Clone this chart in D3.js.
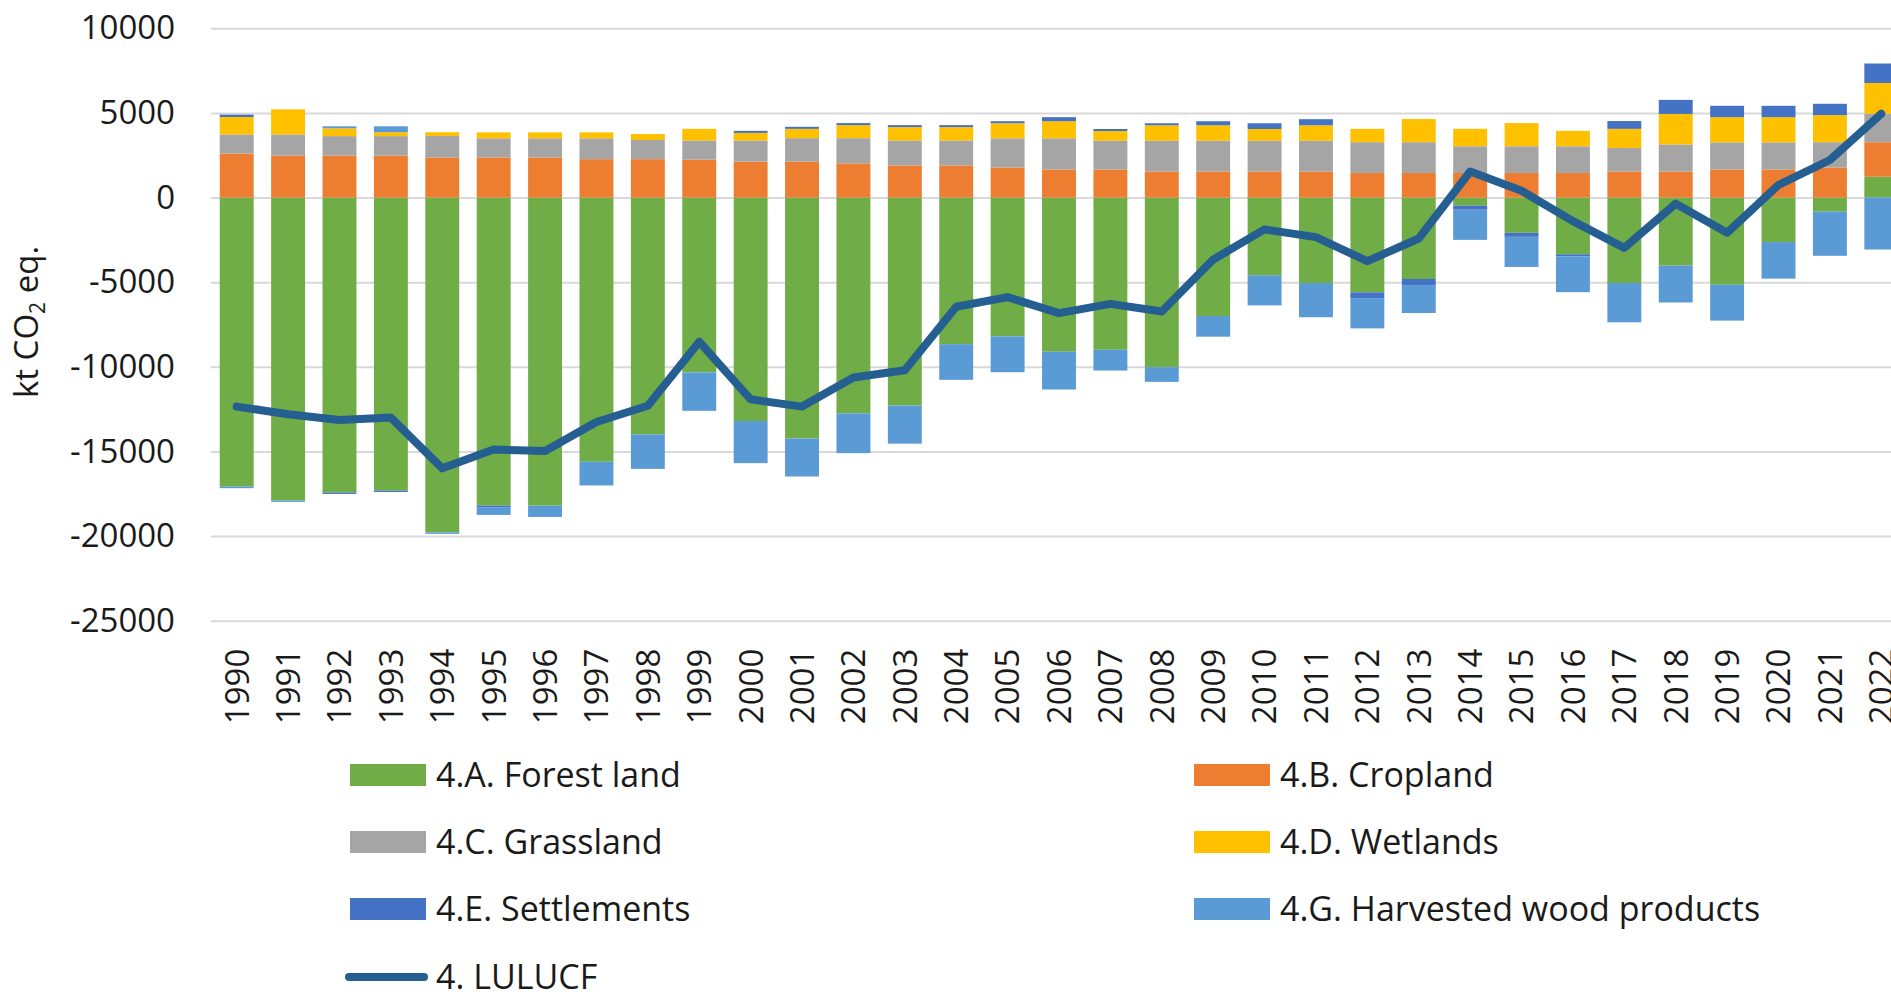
<!DOCTYPE html>
<html>
<head>
<meta charset="utf-8">
<script src="https://cdn.jsdelivr.net/npm/d3@7"></script>
<style>
  body { margin: 0; background: #fff; }
  svg { display: block; font-family: "Open Sans", sans-serif; }
</style>
</head>
<body>
<div id="chart-area"></div>
<script>
// years on the x axis
var years = d3.range(1990, 2023).map(String);

var forest = [-17080, -17900, -17430, -17320, -19780, -18200, -18200, -15610, -13990, -10330,
    -13200, -14230, -12750, -12290, -8660, -8200, -9110, -8990, -10020, -7000,
    -4590, -5050, -5600, -4810, -480, -2080, -3350, -5050, -4020, -5150,
    -2630, -830, 1230];
var cropland = [2600, 2480, 2480, 2480, 2370, 2370, 2370, 2270, 2270, 2240,
    2120, 2120, 2020, 1900, 1900, 1780, 1660, 1660, 1540, 1540,
    1540, 1540, 1450, 1450, 1450, 1450, 1450, 1540, 1540, 1660,
    1660, 1780, 2040];
var grassland = [1130, 1250, 1150, 1150, 1270, 1130, 1130, 1230, 1130, 1130,
    1250, 1390, 1490, 1470, 1470, 1720, 1840, 1700, 1820, 1820,
    1820, 1820, 1820, 1820, 1580, 1580, 1580, 1390, 1600, 1600,
    1600, 1490, 1680];
var wetlands = [1030, 1480, 460, 230, 220, 350, 350, 350, 350, 690,
    450, 550, 770, 790, 790, 890, 1010, 570, 910, 910,
    690, 910, 790, 1370, 1030, 1370, 910, 1130, 1800, 1490,
    1490, 1600, 1820];
var settlements = [140, 0, -80, -75, 0, -120, 0, 0, 0, 0,
    120, 120, 120, 120, 120, 120, 240, 120, 120, 240,
    340, 360, -340, -360, -240, -240, -120, 460, 830, 670,
    670, 670, 1150];
var hwp = [-90, -80, 120, 350, -90, -430, -670, -1400, -2040, -2270,
    -2490, -2250, -2350, -2250, -2110, -2120, -2230, -1230, -870, -1220,
    -1780, -2020, -1790, -1650, -1780, -1780, -2120, -2320, -2180, -2120,
    -2160, -2610, -3070];
var lulucf = [-12350, -12800, -13140, -13000, -16000, -14880, -14980, -13260, -12300, -8520,
    -11920, -12350, -10630, -10200, -6450, -5880, -6830, -6280, -6730, -3660,
    -1880, -2340, -3760, -2420, 1540, 400, -1390, -2970, -360, -2080,
    750, 2220, 4950];

var yTicks = [10000, 5000, 0, -5000, -10000, -15000, -20000, -25000];

var keys = ["forest", "cropland", "grassland", "wetlands", "settlements", "hwp"];
var labels = {
    forest: "4.A. Forest land",
    cropland: "4.B. Cropland",
    grassland: "4.C. Grassland",
    wetlands: "4.D. Wetlands",
    settlements: "4.E. Settlements",
    hwp: "4.G. Harvested wood products"
};
var colors = {
    forest: "#70AD47",
    cropland: "#ED7D31",
    grassland: "#A5A5A5",
    wetlands: "#FFC000",
    settlements: "#4472C4",
    hwp: "#5B9BD5"
};
var lineColor = "#255E91";

var table = years.map(function (yr, i) {
    return {
        year: yr,
        forest: forest[i],
        cropland: cropland[i],
        grassland: grassland[i],
        wetlands: wetlands[i],
        settlements: settlements[i],
        hwp: hwp[i],
        lulucf: lulucf[i]
    };
});

var W = 1891, H = 992;
// plot box; the right edge runs past the picture like the reference
var plot = { left: 211, right: 1907, top: 28.3, bottom: 620.7 };

var svg = d3.select("#chart-area")
    .append("svg")
    .attr("width", W)
    .attr("height", H);

var x = d3.scaleBand().domain(years).range([plot.left, plot.right]).paddingInner(0.34).paddingOuter(0.17);
var y = d3.scaleLinear().domain([-25000, 10000]).range([plot.bottom, plot.top]);

// gridlines
svg.append("g")
    .attr("class", "grid")
    .attr("transform", "translate(" + plot.left + ",0)")
    .call(d3.axisLeft(y).tickValues(yTicks).tickSize(-(plot.right - plot.left)).tickFormat(""))
    .call(g => g.select(".domain").remove())
    .call(g => g.selectAll("line").attr("stroke", "#D9D9D9").attr("stroke-width", 2));

// y tick labels (plain hyphen for negatives, like the original)
svg.append("g")
    .attr("transform", "translate(" + plot.left + ",0)")
    .call(d3.axisLeft(y).tickValues(yTicks).tickSize(0).tickPadding(36).tickFormat(d => String(d)))
    .call(g => g.select(".domain").remove())
    .call(g => g.selectAll("text")
        .attr("font-size", 33)
        .attr("fill", "#1a1a1a")
        .style("font-family", "'Open Sans', sans-serif"));

// x labels
svg.append("g")
    .attr("transform", "translate(0," + plot.bottom + ")")
    .call(d3.axisBottom(x).tickSize(0).tickPadding(0))
    .call(g => g.select(".domain").remove())
    .call(g => g.selectAll("text")
        .attr("font-size", 33)
        .attr("fill", "#1a1a1a")
        .style("font-family", "'Open Sans', sans-serif")
        .attr("text-anchor", "end")
        .attr("transform", "translate(0,28) rotate(-90)")
        .attr("x", 0)
        .attr("y", 0)
        .attr("dy", "0.36em"));

// stacked bars
var series = d3.stack().keys(keys).offset(d3.stackOffsetDiverging)(table);

svg.append("g")
    .selectAll("g")
    .data(series)
    .join("g")
    .attr("fill", d => colors[d.key])
    .selectAll("rect")
    .data(d => d)
    .join("rect")
    .attr("x", d => x(d.data.year))
    .attr("width", x.bandwidth())
    .attr("y", d => y(Math.max(d[0], d[1])))
    .attr("height", d => Math.abs(y(d[0]) - y(d[1])));

// LULUCF line
var line = d3.line()
    .x(d => x(d.year) + x.bandwidth() / 2)
    .y(d => y(d.lulucf));

svg.append("path")
    .datum(table)
    .attr("fill", "none")
    .attr("stroke", lineColor)
    .attr("stroke-width", 8)
    .attr("stroke-linejoin", "round")
    .attr("stroke-linecap", "round")
    .attr("d", line);

// y axis title
var yTitle = svg.append("text")
    .attr("transform", "translate(38,322) rotate(-90)")
    .attr("text-anchor", "middle")
    .attr("font-size", 33)
    .attr("fill", "#1a1a1a");
yTitle.append("tspan").text("kt CO");
yTitle.append("tspan").attr("font-size", 21).attr("dy", 7).text("2");
yTitle.append("tspan").attr("dy", -7).text(" eq.");

// legend
var legendItems = [
    { key: "forest", col: 0, row: 0 },
    { key: "cropland", col: 1, row: 0 },
    { key: "grassland", col: 0, row: 1 },
    { key: "wetlands", col: 1, row: 1 },
    { key: "settlements", col: 0, row: 2 },
    { key: "hwp", col: 1, row: 2 }
];
var colX = [350, 1194];
var rowY = [775, 842, 909, 977];

var legend = svg.append("g").attr("class", "legend");

legendItems.forEach(function (it) {
    var gx = colX[it.col], gy = rowY[it.row];
    legend.append("rect")
        .attr("x", gx).attr("y", gy - 11)
        .attr("width", 76).attr("height", 22)
        .attr("fill", colors[it.key]);
    legend.append("text")
        .attr("x", gx + 86).attr("y", gy)
        .attr("dy", "0.36em")
        .attr("font-size", 34)
        .attr("fill", "#1a1a1a")
        .text(labels[it.key]);
});

legend.append("line")
    .attr("x1", 349).attr("x2", 424)
    .attr("y1", rowY[3]).attr("y2", rowY[3])
    .attr("stroke", lineColor)
    .attr("stroke-width", 8)
    .attr("stroke-linecap", "round");
legend.append("text")
    .attr("x", 436).attr("y", rowY[3])
    .attr("dy", "0.36em")
    .attr("font-size", 34)
    .attr("fill", "#1a1a1a")
    .text("4. LULUCF");
</script>
</body>
</html>
